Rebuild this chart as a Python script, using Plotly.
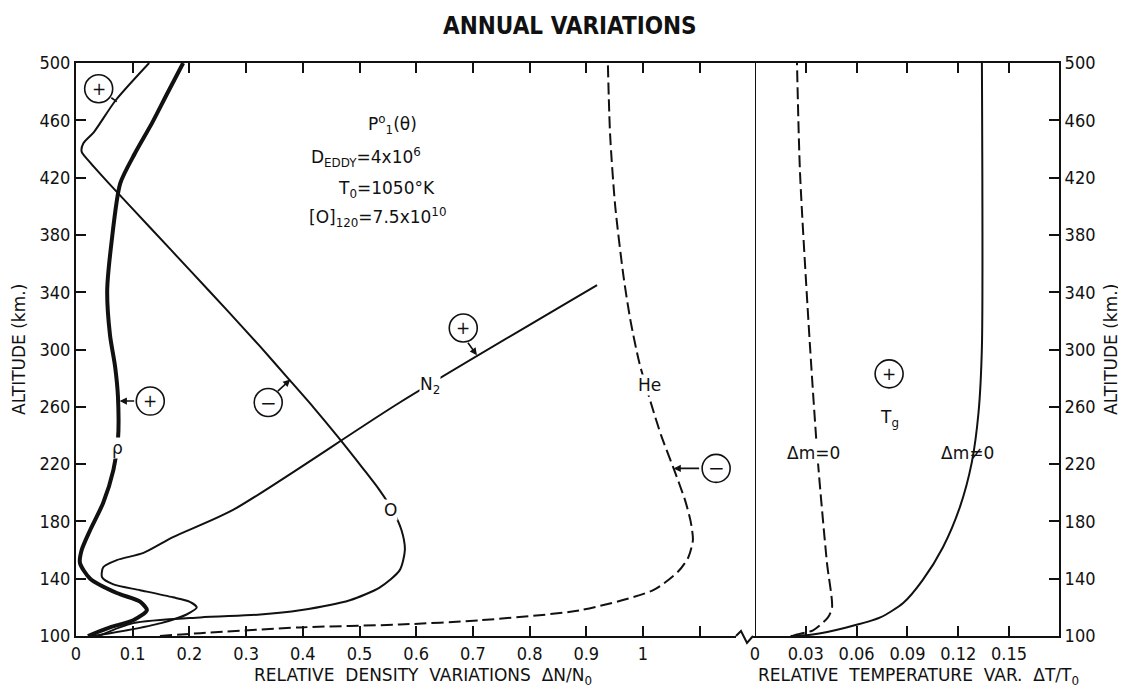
import plotly.graph_objects as go

# ---------------- data ----------------
alt_ticks = [100, 140, 180, 220, 260, 300, 340, 380, 420, 460, 500]
dens_ticks = [0, 0.1, 0.2, 0.3, 0.4, 0.5, 0.6, 0.7, 0.8, 0.9, 1.0, 1.1]
dens_tick_text = ["0", "0.1", "0.2", "0.3", "0.4", "0.5", "0.6", "0.7", "0.8", "0.9", "1", ""]
temp_ticks = [0, 0.03, 0.06, 0.09, 0.12, 0.15]
temp_tick_text = ["0", "0.03", "0.06", "0.09", "0.12", "0.15"]

# total density (rho), thick line
rho_x = [0.021, 0.060, 0.101, 0.125, 0.113, 0.072, 0.025, 0.007, 0.010, 0.025, 0.048,
         0.066, 0.074, 0.074, 0.069, 0.060, 0.055, 0.063, 0.078, 0.104, 0.134, 0.160, 0.189]
rho_alt = [100, 106, 111, 118, 124, 130, 140, 151, 160, 174, 193,
           216, 237, 267, 288, 310, 341, 376, 416, 437, 458, 478, 500]

# atomic oxygen
o_x = [0.040, 0.101, 0.219, 0.325, 0.395, 0.483, 0.536, 0.571, 0.580, 0.574, 0.558,
       0.535, 0.508, 0.462, 0.418, 0.376, 0.325, 0.265, 0.204, 0.131, 0.058, 0.024,
       0.010, 0.013, 0.032, 0.070, 0.129]
o_alt = [100, 109, 113, 115, 118, 125, 134, 146, 160, 174, 188,
         202, 216, 239, 260, 279, 302, 328, 354, 385, 416, 431,
         438, 444, 452, 474, 500]

# molecular nitrogen
n2_x = [0.030, 0.090, 0.150, 0.195, 0.213, 0.200, 0.171, 0.113, 0.066, 0.046, 0.048,
        0.072, 0.119, 0.171, 0.277, 0.571, 0.919]
n2_alt = [100, 104, 109, 115, 120, 124, 127, 132, 136, 141, 148,
          153, 158, 169, 188, 263, 345]

# helium (dashed)
he_x = [0.148, 0.219, 0.395, 0.571, 0.713, 0.889, 1.018, 1.062, 1.080, 1.088, 1.084,
        1.074, 1.053, 1.032, 1.016, 0.994, 0.978, 0.966, 0.951, 0.942, 0.938]
he_alt = [100, 102, 106, 108, 111, 118, 132, 145, 155, 167, 180,
          195, 218, 240, 260, 290, 320, 350, 400, 450, 500]

# temperature, delta m = 0 (dashed)
t0_x = [0.0225, 0.0248, 0.0343, 0.0431, 0.0455, 0.0425, 0.0372, 0.0325, 0.0266, 0.0248]
t0_alt = [100, 101, 104, 113, 120, 151, 221, 302, 423, 500]

# temperature, delta m != 0 (solid)
t1_x = [0.021, 0.034, 0.054, 0.074, 0.0875, 0.099, 0.111, 0.121, 0.128, 0.132, 0.134, 0.134]
t1_alt = [100, 101, 106, 113, 123, 139, 162, 190, 221, 256, 302, 500]

# ---------------- figure ----------------
TICKFONT = "DejaVu Sans Condensed, Liberation Sans Narrow, Liberation Sans, Arial"
FONT = "DejaVu Sans, Liberation Sans, Arial"
BLACK = "#111111"
OFF = 8  # page body margin of the browser
W, H = 1126 - OFF, 694 - OFF
ML, MT = 76 - OFF, 63 - OFF
MR = W - (1059 - OFF)
MB = H - (636 - OFF)
split_px = 755
pw = W - ML - MR
ph = H - MT - MB
split = (split_px - 76) / pw
dens_max = (split_px - 76) / 567.0
temp_max = (1059 - split_px) / 50.8 * 0.03


def px2paper_x(px):  # reference pixel -> paper
    return (px - 76) / pw


def py2paper_y(py):
    return (636 - py) / ph


fig = go.Figure()
thin = dict(color=BLACK, width=2, shape="spline", smoothing=0.7)
dashed = dict(color=BLACK, width=2, dash="12px,5px", shape="spline", smoothing=0.7)
fig.add_trace(go.Scatter(x=rho_x, y=rho_alt, mode="lines",
                         line=dict(color=BLACK, width=4, shape="spline", smoothing=0.7),
                         xaxis="x", yaxis="y"))
fig.add_trace(go.Scatter(x=o_x, y=o_alt, mode="lines", line=thin, xaxis="x", yaxis="y"))
fig.add_trace(go.Scatter(x=n2_x, y=n2_alt, mode="lines", line=thin, xaxis="x", yaxis="y"))
fig.add_trace(go.Scatter(x=he_x, y=he_alt, mode="lines", line=dashed, xaxis="x", yaxis="y"))
fig.add_trace(go.Scatter(x=t0_x, y=t0_alt, mode="lines", line=dashed, xaxis="x2", yaxis="y2"))
fig.add_trace(go.Scatter(x=t1_x, y=t1_alt, mode="lines", line=thin, xaxis="x2", yaxis="y2"))

tickfont = dict(family=TICKFONT, size=18, color=BLACK)
axis_common = dict(showgrid=False, zeroline=False, showline=True, linecolor=BLACK,
                   linewidth=2, ticks="inside", ticklen=10, tickwidth=2, tickcolor=BLACK,
                   tickfont=tickfont, automargin=False)

fig.update_layout(
    width=W, height=H,
    margin=dict(l=ML, r=MR, t=MT, b=MB),
    paper_bgcolor="white", plot_bgcolor="white",
    showlegend=False,
    xaxis=dict(domain=[0, split], range=[0, dens_max], tickvals=dens_ticks,
               ticktext=dens_tick_text, mirror="ticks", anchor="y", **axis_common),
    xaxis2=dict(domain=[split, 1], range=[0, temp_max], tickvals=temp_ticks,
                ticktext=temp_tick_text, mirror="ticks", anchor="y2", **axis_common),
    yaxis=dict(domain=[0, 1], range=[100, 500], tickvals=alt_ticks, anchor="x",
               side="left", **axis_common),
    yaxis2=dict(domain=[0, 1], range=[100, 500], tickvals=alt_ticks, anchor="x2",
                overlaying="y", side="right", **axis_common),
)

# left border of the temperature panel
fig.add_shape(type="line", xref="x2", yref="paper", x0=0, x1=0, y0=0, y1=1,
              line=dict(color=BLACK, width=2), layer="above")

# axis break zigzag on the bottom axis
fig.add_shape(type="line", xref="paper", yref="paper",
              x0=px2paper_x(736), x1=px2paper_x(753), y0=0, y1=0,
              line=dict(color="white", width=4), layer="above")
zig = "M {:.5f},{:.5f} L {:.5f},{:.5f} L {:.5f},{:.5f} L {:.5f},{:.5f}".format(
    px2paper_x(736), py2paper_y(636), px2paper_x(741), py2paper_y(631),
    px2paper_x(747), py2paper_y(643), px2paper_x(753), py2paper_y(636))
fig.add_shape(type="path", path=zig, xref="paper", yref="paper",
              line=dict(color=BLACK, width=2), layer="above")

# circled signs
circles = [  # (xref, x, alt, sign)
    ("x", 0.040, 482, "+"),
    ("x", 0.131, 264, "+"),
    ("x", 0.339, 263, "\u2212"),
    ("x", 0.683, 315, "+"),
    ("x", 1.129, 217, "\u2212"),
    ("x2", 0.0792, 283, "+"),
]
for xr, cx, cy, s in circles:
    yr = "y" if xr == "x" else "y2"
    fig.add_shape(type="circle", xref=xr, yref=yr, xsizemode="pixel", ysizemode="pixel",
                  xanchor=cx, yanchor=cy, x0=-14, x1=14, y0=-14, y1=14,
                  line=dict(color=BLACK, width=1.6), fillcolor="white", layer="above")
    fig.add_annotation(x=cx, y=cy, xref=xr, yref=yr, text=s, showarrow=False,
                       xanchor="center", yanchor="middle",
                       font=dict(family=FONT, size=17 if s == "+" else 20, color=BLACK))

# leader arrows (tip on the curve, tail at the circle)
leaders = [  # (x, alt, ax, ay, head)
    (0.072, 473, -7, -5, 0),
    (0.077, 264, 16, 0, 2),
    (0.378, 279, -14, 13, 2),
    (0.707, 296, -10, -14, 2),
    (1.054, 217, 27, 0, 2),
]
for lx, ly, ax, ay, head in leaders:
    fig.add_annotation(x=lx, y=ly, xref="x", yref="y", ax=ax, ay=ay, text="",
                       showarrow=True, arrowhead=head, arrowsize=0.9, arrowwidth=1.6,
                       arrowcolor=BLACK)

lab = dict(family=FONT, size=17, color=BLACK)
curve_labels = [  # (xref, x, alt, text, masked)
    ("x", 0.074, 231, "\u03c1", True),
    ("x", 0.554, 188, "O", True),
    ("x", 0.624, 275, "N<sub>2</sub>", True),
    ("x", 1.012, 275, "He", True),
    ("x2", 0.0343, 228, "\u0394m=0", True),
    ("x2", 0.1253, 228, "\u0394m\u22600", False),
    ("x2", 0.0792, 252, "T<sub>g</sub>", False),
    ("x", 0.559, 457, "P<sup>o</sup><sub>1</sub>(\u03b8)", False),
    ("x", 0.511, 434, "D<sub>EDDY</sub>=4x10<sup>6</sup>", False),
    ("x", 0.548, 412, "T<sub>0</sub>=1050\u00b0K", False),
    ("x", 0.531, 392, "[O]<sub>120</sub>=7.5x10<sup>10</sup>", False),
]
for xr, lx, ly, t, masked in curve_labels:
    yr = "y" if xr == "x" else "y2"
    fig.add_annotation(x=lx, y=ly, xref=xr, yref=yr, text=t, showarrow=False, font=lab,
                       xanchor="center", yanchor="middle",
                       bgcolor="white" if masked else "rgba(0,0,0,0)", borderpad=0)


# titles
def paper_text(px, py, text, size, angle=0, family=FONT):
    fig.add_annotation(x=px2paper_x(px), y=py2paper_y(py), xref="paper", yref="paper",
                       text=text, showarrow=False, textangle=angle,
                       xanchor="center", yanchor="middle",
                       font=dict(family=family, size=size, color=BLACK))


paper_text(570, 26, "<b>ANNUAL VARIATIONS</b>", 24, family=TICKFONT)
paper_text(423, 676, "RELATIVE  DENSITY  VARIATIONS  \u0394N/N<sub>0</sub>", 17)
paper_text(918, 676, "RELATIVE  TEMPERATURE  VAR.  \u0394T/T<sub>0</sub>", 17)
paper_text(19, 350, "ALTITUDE (km.)", 17, angle=-90)
paper_text(1111, 350, "ALTITUDE (km.)", 17, angle=-90)

fig.write_html("out.html")
